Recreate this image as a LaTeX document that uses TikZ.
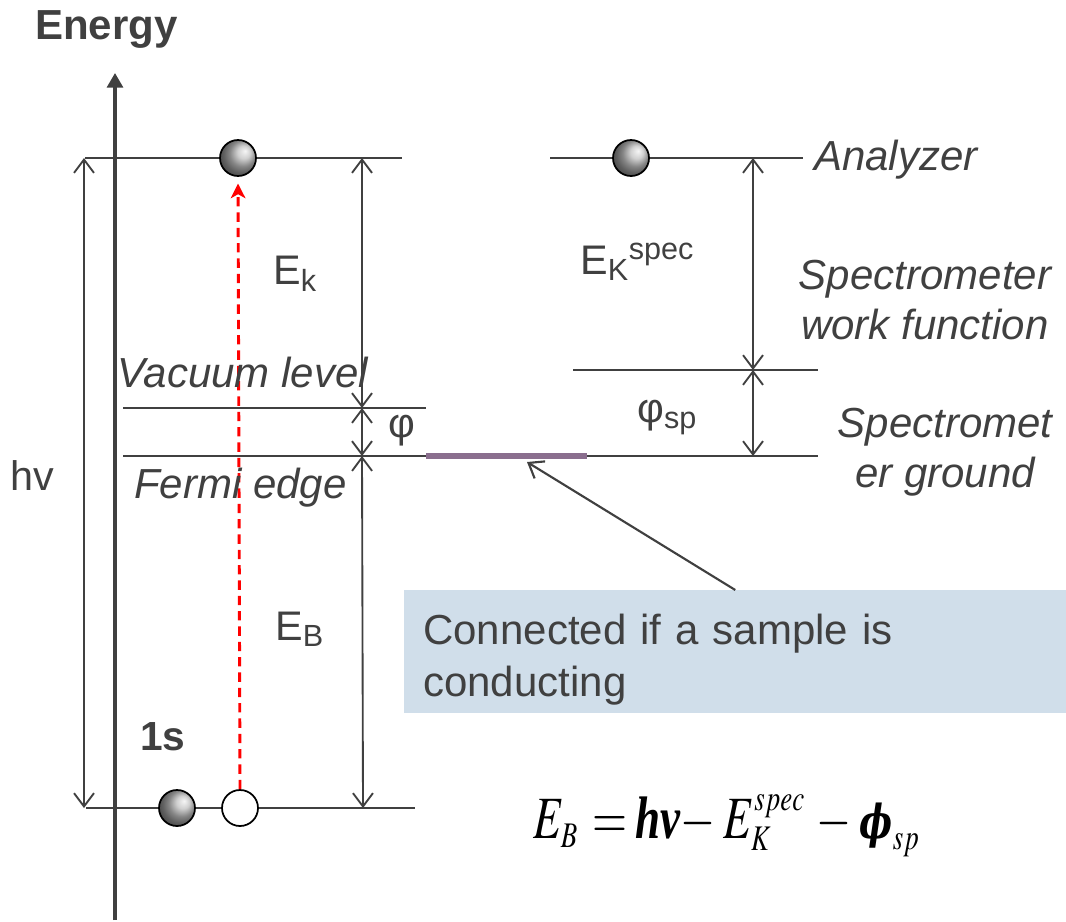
\documentclass[tikz,border=0pt]{standalone}
\usepackage{amsmath}
\usepackage{mathptmx}
\usepackage{fontspec}
\setmainfont{Liberation Sans}
\newfontfamily\eqserif{Liberation Serif}
\newfontfamily\dvserif{DejaVu Serif}
\usetikzlibrary{arrows.meta}
\definecolor{ink}{HTML}{404040}
\definecolor{purp}{HTML}{8A6E8E}
\definecolor{calloutfill}{HTML}{D0DEEA}
\newcommand\fsz[1]{\fontsize{#1}{1.2\dimexpr #1pt\relax}\selectfont}
\begin{document}
\begin{tikzpicture}[x=0.75pt,y=-0.75pt]
\tikzset{
  lvl/.style={draw=ink, line width=1.2pt},
  gap/.style={draw=ink, line width=1.4pt,
    {Straight Barb[length=10pt,width=15pt]}-{Straight Barb[length=10pt,width=15pt]}},
  pointer/.style={draw=ink, line width=1.6pt, -{Straight Barb[length=10pt,width=15pt]}},
  axisline/.style={draw=ink, line width=2.4pt, -{Triangle[length=11pt,width=12pt]}},
  photo/.style={draw=red, line width=2.2pt, dash pattern=on 7pt off 4.5pt,
    -{Stealth[length=11pt,width=11pt,inset=3pt]}, shorten >=5pt},
  ebal/.style={circle, draw=black, line width=1.3pt, minimum size=27pt, inner sep=0pt,
    ball color=gray!50!white, shading angle=-90},
  hole/.style={circle, draw=black, line width=1.3pt, minimum size=27pt, inner sep=0pt, fill=white},
  lab/.style={text=ink, inner sep=0pt, anchor=base west, font=\fsz{31}},
  itlab/.style={text=ink, inner sep=0pt, font=\fsz{31.5}\itshape},
  calloutbox/.style={fill=calloutfill, anchor=north west, minimum width=496.5pt, minimum height=92pt,
    text width=468pt, inner xsep=14pt, align=left, text=ink,
    font=\fontsize{31.5}{39}\selectfont},
}
\useasboundingbox (0,0) rectangle (1066,921);

% coordinates
\coordinate (tl) at (85,158);   \coordinate (tr) at (402,158);
\coordinate (vl) at (123,408);  \coordinate (vr) at (426,408);
\coordinate (fl) at (123,456);  \coordinate (fm) at (426,456);
\coordinate (fn) at (587,456);  \coordinate (fr) at (818,456);
\coordinate (bl) at (86,808);   \coordinate (br) at (415,808);
\coordinate (al) at (550,158);  \coordinate (ar) at (803,158);
\coordinate (wl) at (573,370);  \coordinate (wr) at (818,370);
\coordinate (axb) at (115,920); \coordinate (axt) at (115,73);
\coordinate (hvt) at (84,158);  \coordinate (hvb) at (84,808);
\coordinate (ekt) at (362,158); \coordinate (ekb) at (362,408);
\coordinate (phb) at (362,456);
\coordinate (ebb) at (363,808);
\coordinate (kst) at (753,158); \coordinate (ksb) at (753,370);
\coordinate (spb) at (753,456);
\coordinate (gnd) at (527,462);

% levels
\draw[lvl] (tl) -- (tr);
\draw[lvl] (vl) -- (vr);
\draw[lvl] (fl) -- (fm);
\draw[draw=purp, line width=4pt] (fm) -- (fn);
\draw[lvl] (fn) -- (fr);
\draw[lvl] (bl) -- (br);
\draw[lvl] (al) -- (ar);
\draw[lvl] (wl) -- (wr);

% axis
\draw[axisline] (axb) -- (axt);

% dimension arrows
\draw[gap] (hvt) -- (hvb);
\draw[gap] (ekt) -- (ekb);
\draw[gap] (ekb) -- (phb);
\draw[gap] (phb) -- (ebb);
\draw[gap] (kst) -- (ksb);
\draw[gap] (ksb) -- (spb);

% particles
\node[ebal] (b1) at (238,158) {};
\node[ebal] (b2) at (177,808) {};
\node[hole] (h1) at (240,808) {};
\node[ebal] (b3) at (631,158) {};

\draw[photo] (h1.north) -- (b1.south);

% labels
\node[lab, font=\fsz{31.5}\bfseries] (energy) at (35,39) {Energy};
\node[lab] (hv) at (10,490) {hv};
\node[lab] (ek) at (273,284) {E\textsubscript{k}};
\node[lab] (eb) at (275,640) {E\textsubscript{B}};
\node[lab, font=\fsz{30.5}\bfseries] (ones) at (140,750) {1s};
\node[lab] (phi) at (388,437) {φ};
\node[lab] (eks) at (580,274) {E\textsubscript{K}\textsuperscript{spec}};
\node[lab] (phisp) at (637,422) {φ\textsubscript{sp}};
\node[itlab, anchor=base west] (vac) at (117,387) {Vacuum level};
\node[itlab, anchor=base west] (fermi) at (134,498) {Fermi edge};
\node[itlab, anchor=base west] (ana) at (814,170) {Analyzer};
\node[itlab, anchor=base] (swf1) at (925,289) {Spectrometer};
\node[itlab, anchor=base] (swf2) at (925,339) {work function};
\node[itlab, anchor=base] (sg1) at (945,437) {Spectromet};
\node[itlab, anchor=base] (sg2) at (945,487) {er ground};

% callout
\node[calloutbox] (callout) at (404,590) {\rule{0pt}{35pt}Connected if a sample is\\conducting};
\draw[pointer] (callout.north) -- (gnd);

% equation
\node[inner sep=0pt, anchor=base west, font=\fsz{45}] (eq) at (533,838)
  {\scalebox{0.75}[1]{$E_{\scriptscriptstyle B}\kern15pt{=}\kern8pt
   \text{\eqserif\bfseries\itshape hν}{-}\kern8pt
   E_{\scriptscriptstyle K}^{\scriptscriptstyle spec}\kern12pt{-}\kern8pt
   \text{\scalebox{0.78}{\dvserif\bfseries\itshape ϕ}}_{\scriptscriptstyle sp}$}};
\end{tikzpicture}
\end{document}
